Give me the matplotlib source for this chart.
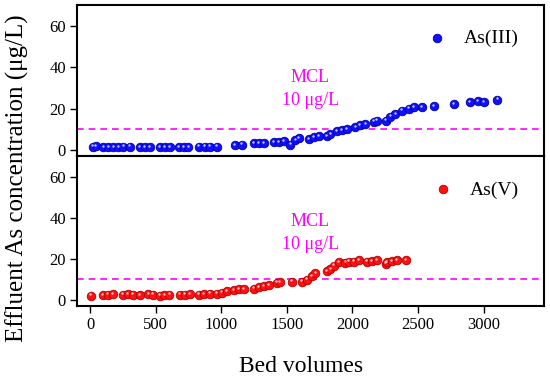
import matplotlib
matplotlib.use("Agg")
import matplotlib.pyplot as plt
import matplotlib.transforms as mtransforms
import numpy as np

plt.rcParams["font.family"] = ["Liberation Serif", "DejaVu Serif"]

# As(III) breakthrough
bv_as3 = [20, 45, 102, 140, 178, 216, 254, 305, 382, 420, 458, 534, 573, 611,
          674, 712, 750, 827, 878, 916, 967, 1107, 1158, 1247, 1285, 1323,
          1399, 1438, 1476, 1527, 1565, 1590, 1667, 1705, 1743, 1807, 1832,
          1883, 1921, 1959, 2023, 2060, 2099, 2163, 2188, 2252, 2290, 2328,
          2379, 2430, 2468, 2532, 2621, 2773, 2895, 2957, 3003, 3105]
c_as3 = [1.6, 1.8, 1.4, 1.3, 1.3, 1.4, 1.5, 1.5, 1.3, 1.4, 1.4, 1.4, 1.4, 1.4,
         1.3, 1.4, 1.4, 1.5, 1.5, 1.5, 1.6, 2.2, 2.6, 3.3, 3.4, 3.4,
         3.6, 3.8, 4.3, 2.6, 4.8, 5.6, 5.1, 6.1, 6.7, 6.7, 7.7,
         9.0, 9.6, 9.9, 11.0, 11.8, 12.3, 13.6, 14.2, 14.1, 16.0, 17.3,
         19.0, 20.0, 20.5, 20.6, 21.1, 22.1, 22.9, 23.5, 22.9, 24.3]

# As(V) breakthrough
bv_as5 = [8, 97, 135, 173, 250, 288, 326, 382, 445, 479, 529, 567, 605, 682,
          720, 758, 827, 865, 911, 967, 1005, 1043, 1094, 1132, 1170, 1247,
          1285, 1323, 1361, 1425, 1450, 1540, 1616, 1654, 1692, 1718, 1807,
          1832, 1858, 1895, 1947, 1972, 2010, 2048, 2112, 2150, 2188, 2252,
          2265, 2303, 2341, 2405]
c_as5 = [2.0, 2.2, 2.4, 2.6, 2.4, 2.6, 2.4, 2.2, 2.6, 2.4, 2.0, 2.2, 2.4, 2.4,
         2.4, 2.6, 2.4, 2.8, 3.0, 3.0, 3.4, 4.0, 4.6, 5.0, 5.2, 5.4,
         6.2, 6.6, 7.0, 8.2, 8.4, 8.8, 8.8, 9.8, 11.5, 13.0, 13.8,
         15.0, 16.5, 18.2, 18.0, 18.5, 18.6, 19.2, 18.6, 18.8, 19.2, 17.5,
         18.2, 18.8, 19.3, 19.2]

MCL = 10
xticks = [0, 500, 1000, 1500, 2000, 2500, 3000]
yticks = [0, 20, 40, 60]

fig = plt.figure(figsize=(5.5, 3.79), dpi=100)
ax1 = fig.add_axes([0.14, 0.588, 0.849, 0.399])
ax2 = fig.add_axes([0.14, 0.193, 0.849, 0.395])


def balls(ax, x, y, color, edge, label):
    ax.scatter(x, y, s=38, color=color, edgecolors=edge, linewidths=0.6,
               zorder=3, label=label)
    # small highlight to mimic the shaded spheres
    off = mtransforms.offset_copy(ax.transData, fig=fig, x=-0.6, y=1.0,
                                  units="points")
    ax.scatter(x, y, s=3, color="white", alpha=0.75, linewidths=0,
               transform=off, zorder=4)


balls(ax1, bv_as3, c_as3, "#1010ff", "#0000a0", "As(III)")
balls(ax2, bv_as5, c_as5, "#ff1010", "#b00000", "As(V)")

mcl_pos = {ax1: (35, 24), ax2: (38, 27)}
for ax in (ax1, ax2):
    ax.axhline(MCL, color="#ff00ff", lw=1.2, ls=(0, (4, 3)), zorder=2)
    y_top, y_bot = mcl_pos[ax]
    ax.text(1680, y_top, "MCL", color="#ff00ff", fontsize=13, ha="center",
            va="center")
    ax.text(1680, y_bot, "10 μg/L", color="#ff00ff", fontsize=13,
            ha="center", va="center")
    ax.set_xlim(-100, 3460)
    ax.set_ylim(-3, 70)
    ax.set_yticks(yticks)
    ax.set_xticks(xticks)
    for sp in ax.spines.values():
        sp.set_linewidth(1.5)
    ax.tick_params(direction="out", length=5, width=1, labelsize=12, pad=3)
    ax.legend(loc="upper right", bbox_to_anchor=(0.988, 0.965), frameon=False,
              fontsize=14, handletextpad=0.4, borderaxespad=0.6,
              scatterpoints=1)

ax1.tick_params(axis="x", bottom=False, labelbottom=False)

fig.text(301 / 550, 1 - 366 / 379, "Bed volumes", fontsize=17,
         ha="center", va="center")
fig.text(0.031, 1 - 178 / 379, "Effluent As concentration (μg/L)",
         rotation=90, fontsize=18, ha="center", va="center")

fig.savefig("out.png", dpi=100)
